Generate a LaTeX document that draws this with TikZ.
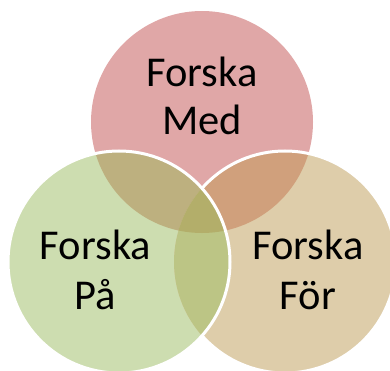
\documentclass[tikz,border=0pt]{standalone}
\usepackage{fontspec}
\setmainfont{Carlito}
\definecolor{cT}{RGB}{224,167,167}
\definecolor{cL}{RGB}{205,221,176}
\definecolor{cR}{RGB}{222,205,170}
\definecolor{cTL}{RGB}{189,176,127}
\definecolor{cTR}{RGB}{208,160,124}
\definecolor{cLR}{RGB}{188,197,133}
\definecolor{cA}{RGB}{179,174,106}
\tikzset{lbl/.style={font=\fontsize{42.5}{48}\selectfont, anchor=base, inner sep=0pt, text=black},
  rim/.style={draw=white, line width=3pt}}
\begin{document}
\begin{tikzpicture}[x=1pt,y=-1pt]
\useasboundingbox (0,0) rectangle (390,371);
\begin{scope}
\clip (0,0) rectangle (390,371);
\fill[cT] (202,122) circle (111pt);
\fill[cL] (119,262) circle (111pt);
\fill[cR] (285,262) circle (111pt);
\begin{scope}
\clip (202,122) circle (111pt);
\fill[cTL] (119,262) circle (111pt);
\fill[cTR] (285,262) circle (111pt);
\end{scope}
\begin{scope}
\clip (119,262) circle (111pt);
\fill[cLR] (285,262) circle (111pt);
\clip (202,122) circle (111pt);
\fill[cA] (285,262) circle (111pt);
\end{scope}
\begin{scope}[even odd rule]
\clip (-20,-20) rectangle (420,420) (119,262) circle (111pt);
\draw[rim] (285,262) circle (111pt);
\end{scope}
\draw[rim] (119,262) circle (111pt);
\end{scope}
\node[lbl] (m1) at (202,87) {Forska};
\node[lbl] (m2) at (202,135) {Med};
\node[lbl] (p1) at (95.5,259) {Forska};
\node[lbl] (p2) at (95.5,309) {På};
\node[lbl] (f1) at (308,259) {Forska};
\node[lbl] (f2) at (308,309) {För};
\end{tikzpicture}
\end{document}
